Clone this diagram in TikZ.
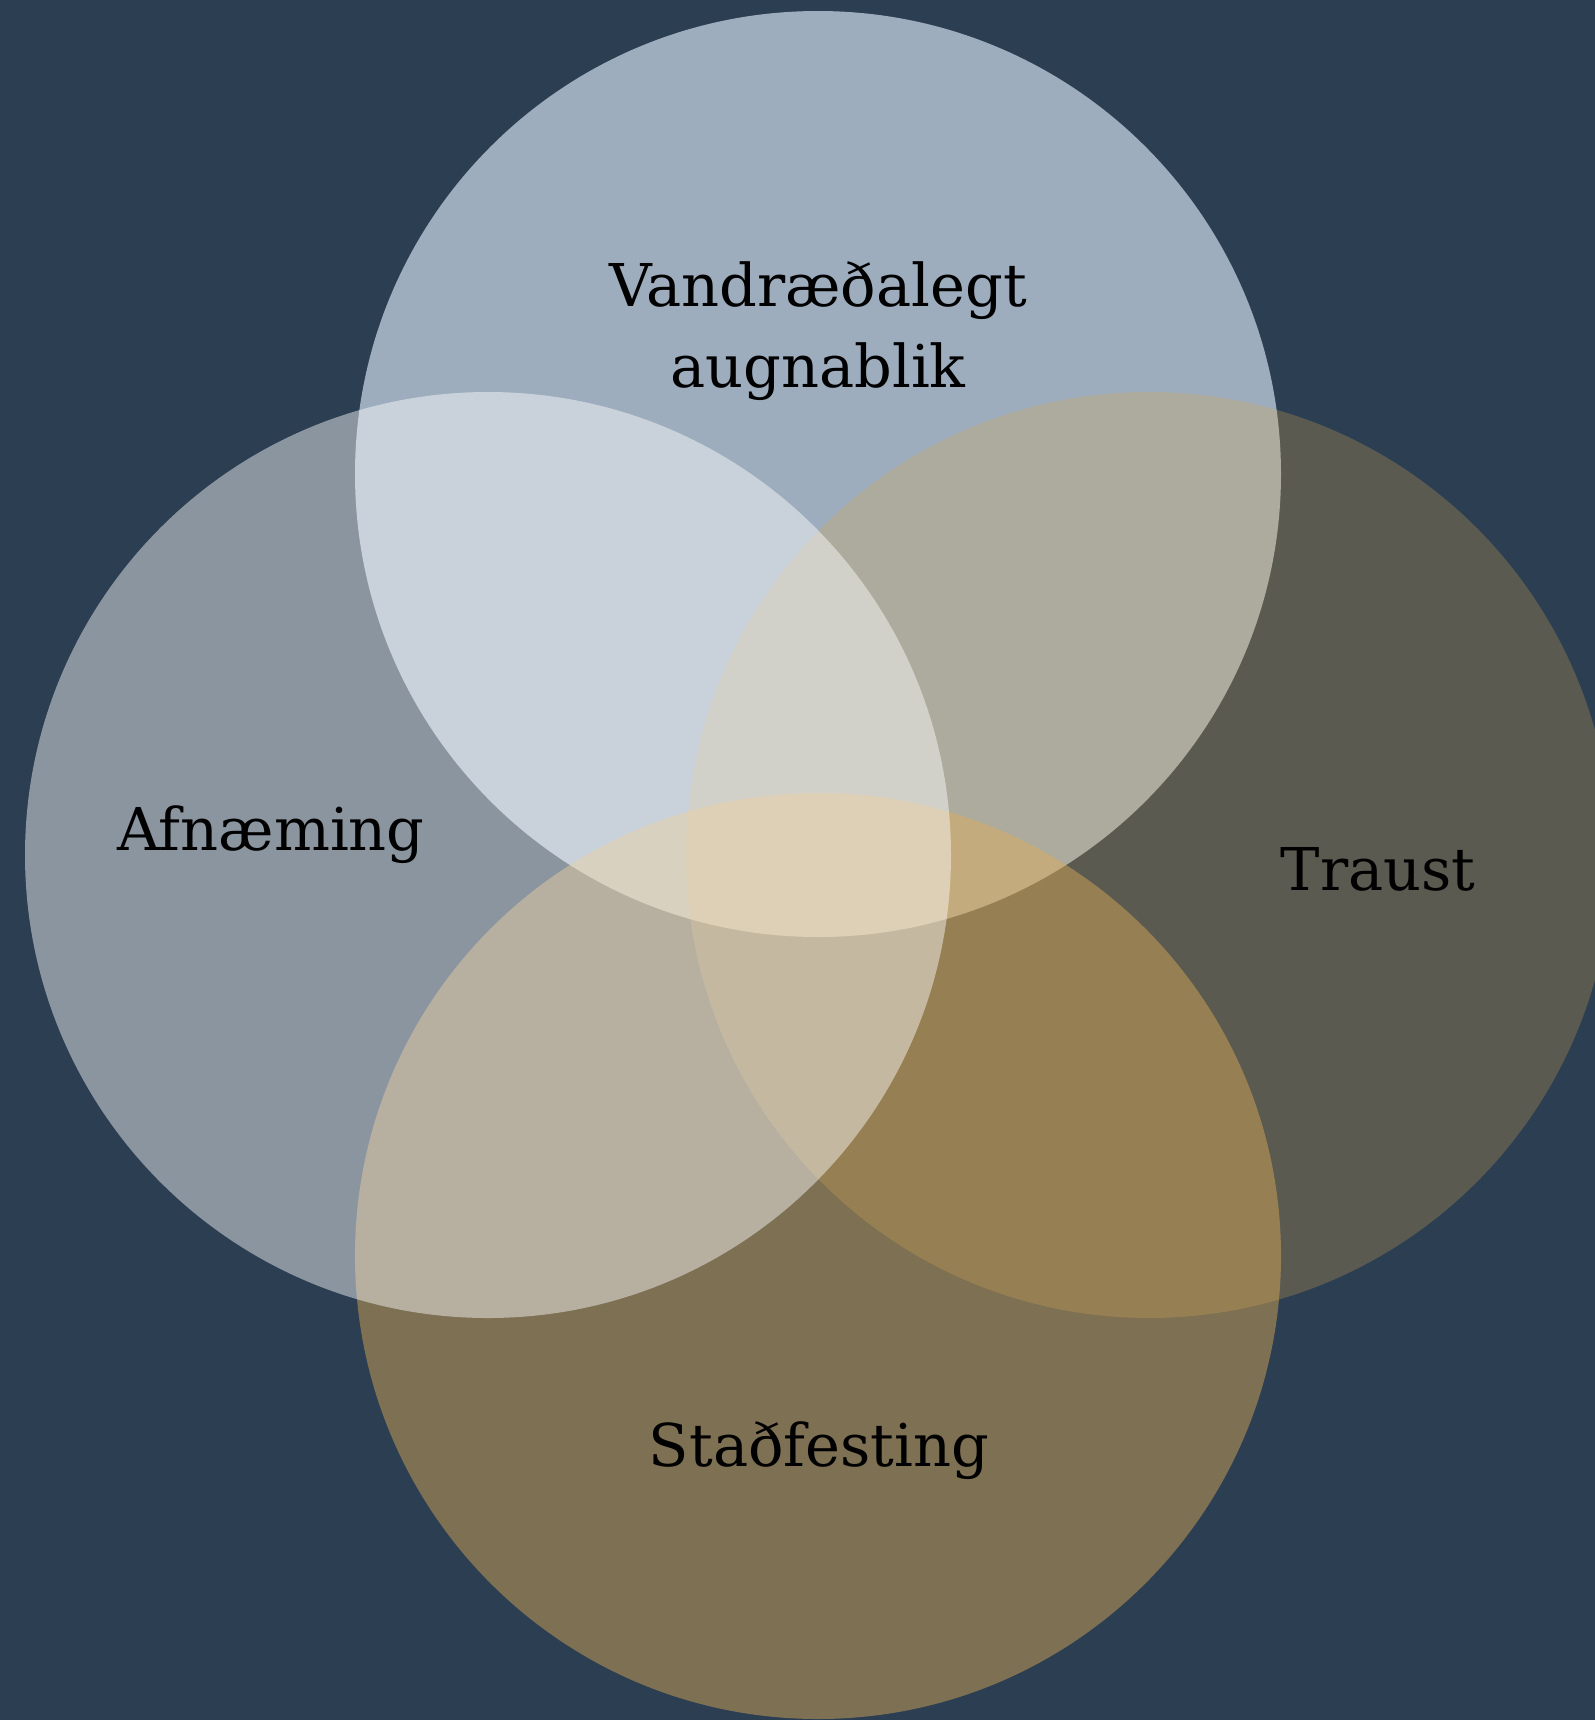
\documentclass[tikz,border=0pt]{standalone}
\usepackage{fontspec}
\setmainfont{DejaVu Serif}
\definecolor{bgc}{RGB}{44,62,82}
\definecolor{topc}{RGB}{157,173,189}
\definecolor{rightc}{RGB}{212,166,79}
\definecolor{botc}{RGB}{224,173,85}
\begin{document}
\begin{tikzpicture}[x=0.5pt,y=-0.5pt,
  lab/.style={font=\fontsize{29.5}{40.5}\selectfont, text=black, inner sep=0pt, anchor=base, align=center}]
\fill[bgc] (0,0) rectangle (1595,1720);
\useasboundingbox (0,0) rectangle (1595,1720);
\fill[topc] (818,474) circle[radius=463];
\fill[rightc, fill opacity=0.28] (1149,855) circle[radius=463];
\fill[botc, fill opacity=0.45] (818,1256) circle[radius=463];
\fill[white, fill opacity=0.45] (488,855) circle[radius=463];
\node[lab] (ltop) at (818,387) {Vandræðalegt\\augnablik};
\node[lab] (lleft) at (271,850) {Afnæming};
\node[lab] (lright) at (1378,890) {Traust};
\node[lab] (lbottom) at (819,1466) {Staðfesting};
\end{tikzpicture}
\end{document}
